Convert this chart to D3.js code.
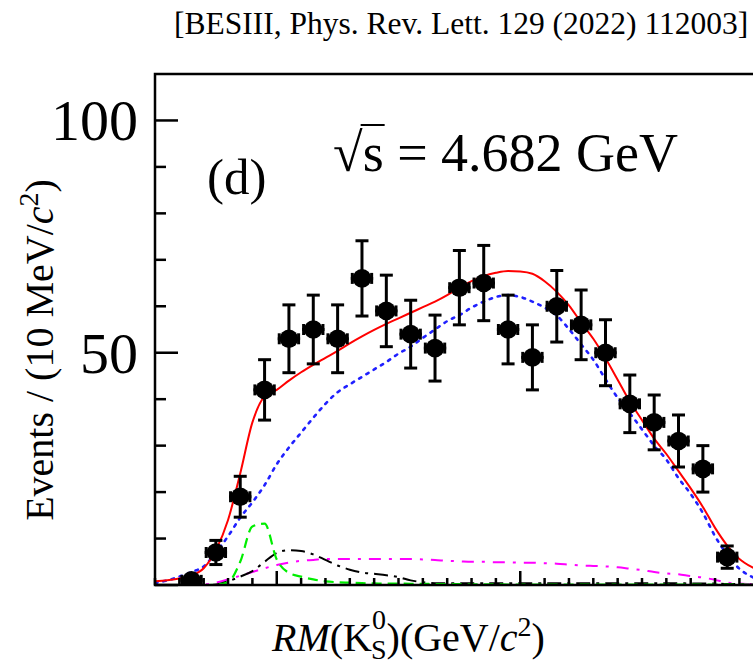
<!DOCTYPE html>
<html>
<head>
<meta charset="utf-8">
<script src="https://cdn.jsdelivr.net/npm/d3@7"></script>
<style>
    body { margin: 0; background: #fff; }
    svg { display: block; }
    text { font-family: "Liberation Serif", "Times New Roman", serif; fill: #000; }
</style>
</head>
<body>
<div id="chart"></div>
<script>
// bin centres (GeV/c^2) and measured events
var binCenters = [3.965, 3.975, 3.985, 3.995, 4.005, 4.015, 4.025, 4.035, 4.045, 4.055, 4.065, 4.075,
    4.085, 4.095, 4.105, 4.115, 4.125, 4.135, 4.145, 4.155, 4.165, 4.175, 4.185];
var events = [1, 7, 19, 42, 53, 55, 53, 66, 59, 54, 51, 64, 65, 55, 49, 60, 56, 50, 39, 35, 31, 25, 6];
var errors = [1, 2.6, 4.4, 6.5, 7.3, 7.4, 7.3, 8.1, 7.7, 7.3, 7.1, 8, 8.1, 7.4, 7, 7.7, 7.5, 7.1, 6.2, 5.9, 5.6, 5, 2.4];
var binWidth = 0.01;

// fit curves sampled every 5 MeV from 3.950 to 4.200
var curveX = d3.range(0, 51).map(i => 3.95 + i * 0.005);
var totalFit = [0.8, 1.0, 1.4, 2.0, 3.6, 7.5, 14, 24, 35, 40.6, 42, 44.0, 45.8, 47.4, 48.9, 50.4, 52.0,
    53.5, 54.9, 56.2, 57.4, 58.6, 59.8, 61.0, 62.4, 64.0, 65.4, 66.5, 67.2, 67.6, 67.5, 67.0, 65.4, 63.1,
    60.2, 56.5, 53.0, 48.8, 44.2, 39.5, 35.5, 31.5, 28.2, 24.5, 20.8, 16.8, 12.3, 8.5, 5.6, 3.9, 2.8];
var background = [0.4, 1.0, 1.8, 2.8, 4.0, 7.0, 10.5, 14.5, 17.8, 21.5, 26.0, 29.6, 32.8, 36.0, 39.0,
    41.5, 43.2, 44.8, 46.4, 48.0, 49.8, 51.3, 53.2, 55.0, 56.8, 58.1, 59.7, 61.0, 62.0, 62.4, 62.0, 61.0,
    59.7, 58.0, 55.1, 51.8, 48.5, 44.3, 40.3, 37.0, 33.5, 30.0, 27.0, 23.0, 19.6, 15.5, 10.5, 6.5, 3.5, 1.8, 1.0];
var signalGreen = [0, 0, 0, 0, 0, 0.1, 0.6, 5, 12.6, 13.2, 5.5, 2.6, 1.8, 1.2, 0.8, 0.6, 0.5, 0.4, 0.35,
    0.3, 0.3, 0.25, 0.25, 0.2, 0.2, 0.2, 0.15, 0.15, 0.15, 0.1, 0.1, 0.1, 0.1, 0.1, 0.1, 0.1, 0.1, 0.1,
    0.1, 0.1, 0.1, 0.1, 0.1, 0.1, 0.1, 0.1, 0.1, 0.1, 0.1, 0.1, 0.1];
var compBlack = [0, 0, 0, 0, 0, 0.1, 0.8, 1.8, 3.0, 5.0, 6.9, 7.5, 7.3, 6.6, 5.4, 4.2, 3.3, 2.7, 2.4,
    2.1, 1.7, 1.0, 0.6, 0.4, 0.4, 0.4, 0.4, 0.4, 0.4, 0.4, 0.4, 0.4, 0.4, 0.4, 0.4, 0.4, 0.4, 0.4, 0.4,
    0.4, 0.4, 0.4, 0.4, 0.4, 0.3, 0.3, 0.3, 0.2, 0.2, 0.1, 0.1];
var compMagenta = [0, 0, 0, 0, 0.1, 0.5, 1.2, 2.0, 2.8, 3.6, 4.3, 4.8, 5.2, 5.4, 5.6, 5.6, 5.6, 5.6, 5.6,
    5.6, 5.6, 5.6, 5.5, 5.4, 5.2, 5.1, 5.0, 5.0, 4.9, 4.9, 4.8, 4.8, 4.7, 4.6, 4.4, 4.2, 4.1, 4.0, 3.8,
    3.5, 3.2, 2.8, 2.5, 2.3, 1.9, 1.6, 1.1, 0.5, 0.3, 0.2, 0.1];

var yMajorTicks = [0, 50, 100];
var yMinorTicks = d3.range(0, 110, 10);

var width = 753,
    height = 665,
    margin = {top: 74, left: 155, bottom: 80};

var svg = d3.select('#chart')
    .append("svg")
    .attr("width", width)
    .attr("height", height);

var xScale = d3.scaleLinear().domain([3.95, 4.20]).range([margin.left, margin.left + 0.25 * 2435]);
var yScale = d3.scaleLinear().domain([0, 110]).range([height - margin.bottom, margin.top]);

var x0 = xScale.range()[0], x1 = xScale.range()[1],
    yb = yScale(0), yt = yScale(110);

svg.append("clipPath").attr("id", "plotclip")
    .append("rect")
    .attr("x", x0).attr("y", yt)
    .attr("width", x1 - x0).attr("height", yb - yt);

var plot = svg.append("g").attr("clip-path", "url(#plotclip)");

// fit components
var line = d3.line()
    .x((d, i) => xScale(curveX[i]))
    .y(d => yScale(d))
    .curve(d3.curveMonotoneX);

var curves = [
    {values: compMagenta, color: "#ff00ff", dash: "12,8,3,8", w: 2},
    {values: compBlack, color: "#000", dash: "14,6,3,6", w: 2},
    {values: signalGreen, color: "#00ee00", dash: "10,6", w: 2.2},
    {values: background, color: "#2020ff", dash: "2.5,6", w: 2.6, round: true},
    {values: totalFit, color: "#ff0000", dash: null, w: 2}
];

plot.selectAll(".fit")
    .data(curves)
    .enter()
    .append("path")
    .attr("class", "fit")
    .attr("d", d => line(d.values))
    .attr("fill", "none")
    .attr("stroke", d => d.color)
    .attr("stroke-width", d => d.w)
    .attr("stroke-dasharray", d => d.dash)
    .attr("stroke-linecap", d => d.round ? "round" : "butt");

/* data points with error bars */
var pts = plot.selectAll(".pt")
    .data(binCenters.map((c, i) => ({x: c, y: events[i], e: errors[i]})))
    .enter().append("g")
    .attr("class", "pt");

pts.append("line")
    .attr("x1", d => xScale(d.x)).attr("x2", d => xScale(d.x))
    .attr("y1", d => yScale(d.y - d.e)).attr("y2", d => yScale(d.y + d.e))
    .attr("stroke", "#000").attr("stroke-width", 3);

pts.selectAll(".vcap")
    .data(d => [[d.x, d.y - d.e], [d.x, d.y + d.e]])
    .enter().append("line")
    .attr("x1", d => xScale(d[0]) - 6.5).attr("x2", d => xScale(d[0]) + 6.5)
    .attr("y1", d => yScale(d[1])).attr("y2", d => yScale(d[1]))
    .attr("stroke", "#000").attr("stroke-width", 3);

pts.append("line")
    .attr("x1", d => xScale(d.x - binWidth / 2) + 1).attr("x2", d => xScale(d.x + binWidth / 2) - 1)
    .attr("y1", d => yScale(d.y)).attr("y2", d => yScale(d.y))
    .attr("stroke", "#000").attr("stroke-width", 3);

pts.selectAll(".hcap")
    .data(d => [[d.x - binWidth / 2, d.y], [d.x + binWidth / 2, d.y]])
    .enter().append("line")
    .attr("x1", (d, i) => xScale(d[0]) + (i === 0 ? 2.5 : -2.5))
    .attr("x2", (d, i) => xScale(d[0]) + (i === 0 ? 2.5 : -2.5))
    .attr("y1", d => yScale(d[1]) - 5.5).attr("y2", d => yScale(d[1]) + 5.5)
    .attr("stroke", "#000").attr("stroke-width", 3);

pts.append("circle")
    .attr("cx", d => xScale(d.x))
    .attr("cy", d => yScale(d.y))
    .attr("r", 9.3)
    .attr("fill", "#000");

// Add the frame
svg.append("path")
    .attr("d", `M${x1},${yt}H${x0}V${yb}H${x1}`)
    .attr("fill", "none")
    .attr("stroke", "#000")
    .attr("stroke-width", 2.5);

// Add the Y Axis ticks
svg.selectAll(".ytick")
    .data(yMinorTicks)
    .enter().append("line")
    .attr("class", "ytick")
    .attr("x1", x0)
    .attr("x2", d => x0 + (yMajorTicks.includes(d) ? 23 : 11))
    .attr("y1", d => yScale(d)).attr("y2", d => yScale(d))
    .attr("stroke", "#000").attr("stroke-width", 2.5);

svg.selectAll(".ylabel")
    .data(yMajorTicks.filter(d => d > 0))
    .enter().append("text")
    .attr("class", "ylabel")
    .attr("x", 138)
    .attr("y", d => yScale(d) + 20)
    .attr("text-anchor", "end")
    .style("font-size", "58px")
    .text(d => d);

// Add the X Axis ticks
var xTicks = d3.range(0, 26).map(i => 3.95 + i * 0.01);
svg.selectAll(".xtick")
    .data(xTicks)
    .enter().append("line")
    .attr("class", "xtick")
    .attr("x1", d => xScale(d)).attr("x2", d => xScale(d))
    .attr("y1", yb)
    .attr("y2", (d, i) => yb - ((i + 5) % 10 === 0 ? 14 : 7))
    .attr("stroke", "#000").attr("stroke-width", 2.5);

// texts
svg.append("text")
    .attr("x", 174).attr("y", 34)
    .style("font-size", "31.5px")
    .text("[BESIII, Phys. Rev. Lett. 129 (2022) 112003]");

svg.append("text")
    .attr("x", 207).attr("y", 194)
    .style("font-size", "51px")
    .text("(d)");

var rootText = svg.append("text")
    .attr("x", 333).attr("y", 171)
    .style("font-size", "54px");
rootText.append("tspan").text("√");
rootText.append("tspan").attr("id", "sq").text("s");
rootText.append("tspan").text(" = 4.682 GeV");

var sq = document.getElementById("sq");
var ext = sq.getExtentOfChar(0);
svg.append("line")
    .attr("x1", ext.x - 2).attr("x2", ext.x + ext.width + 1)
    .attr("y1", 125).attr("y2", 125)
    .attr("stroke", "#000").attr("stroke-width", 2);

var xl = svg.append("text")
    .attr("x", 272).attr("y", 651)
    .style("font-size", "40px");
xl.append("tspan").style("font-style", "italic").text("RM");
xl.append("tspan").text("(K");
xl.append("tspan").attr("dy", -22).style("font-size", "28px").text("0");
xl.append("tspan").attr("dx", -15).attr("dy", 30).style("font-size", "28px").text("S");
xl.append("tspan").attr("dy", -8).text(")(GeV/");
xl.append("tspan").style("font-style", "italic").text("c");
xl.append("tspan").attr("dy", -15).style("font-size", "28px").text("2");
xl.append("tspan").attr("dy", 15).text(")");

var yl = svg.append("text")
    .attr("transform", "translate(53,350) rotate(-90)")
    .attr("text-anchor", "middle")
    .style("font-size", "40px");
yl.append("tspan").text("Events / (10 MeV/");
yl.append("tspan").style("font-style", "italic").text("c");
yl.append("tspan").attr("dy", -15).style("font-size", "28px").text("2");
yl.append("tspan").attr("dy", 15).text(")");
</script>
</body>
</html>
